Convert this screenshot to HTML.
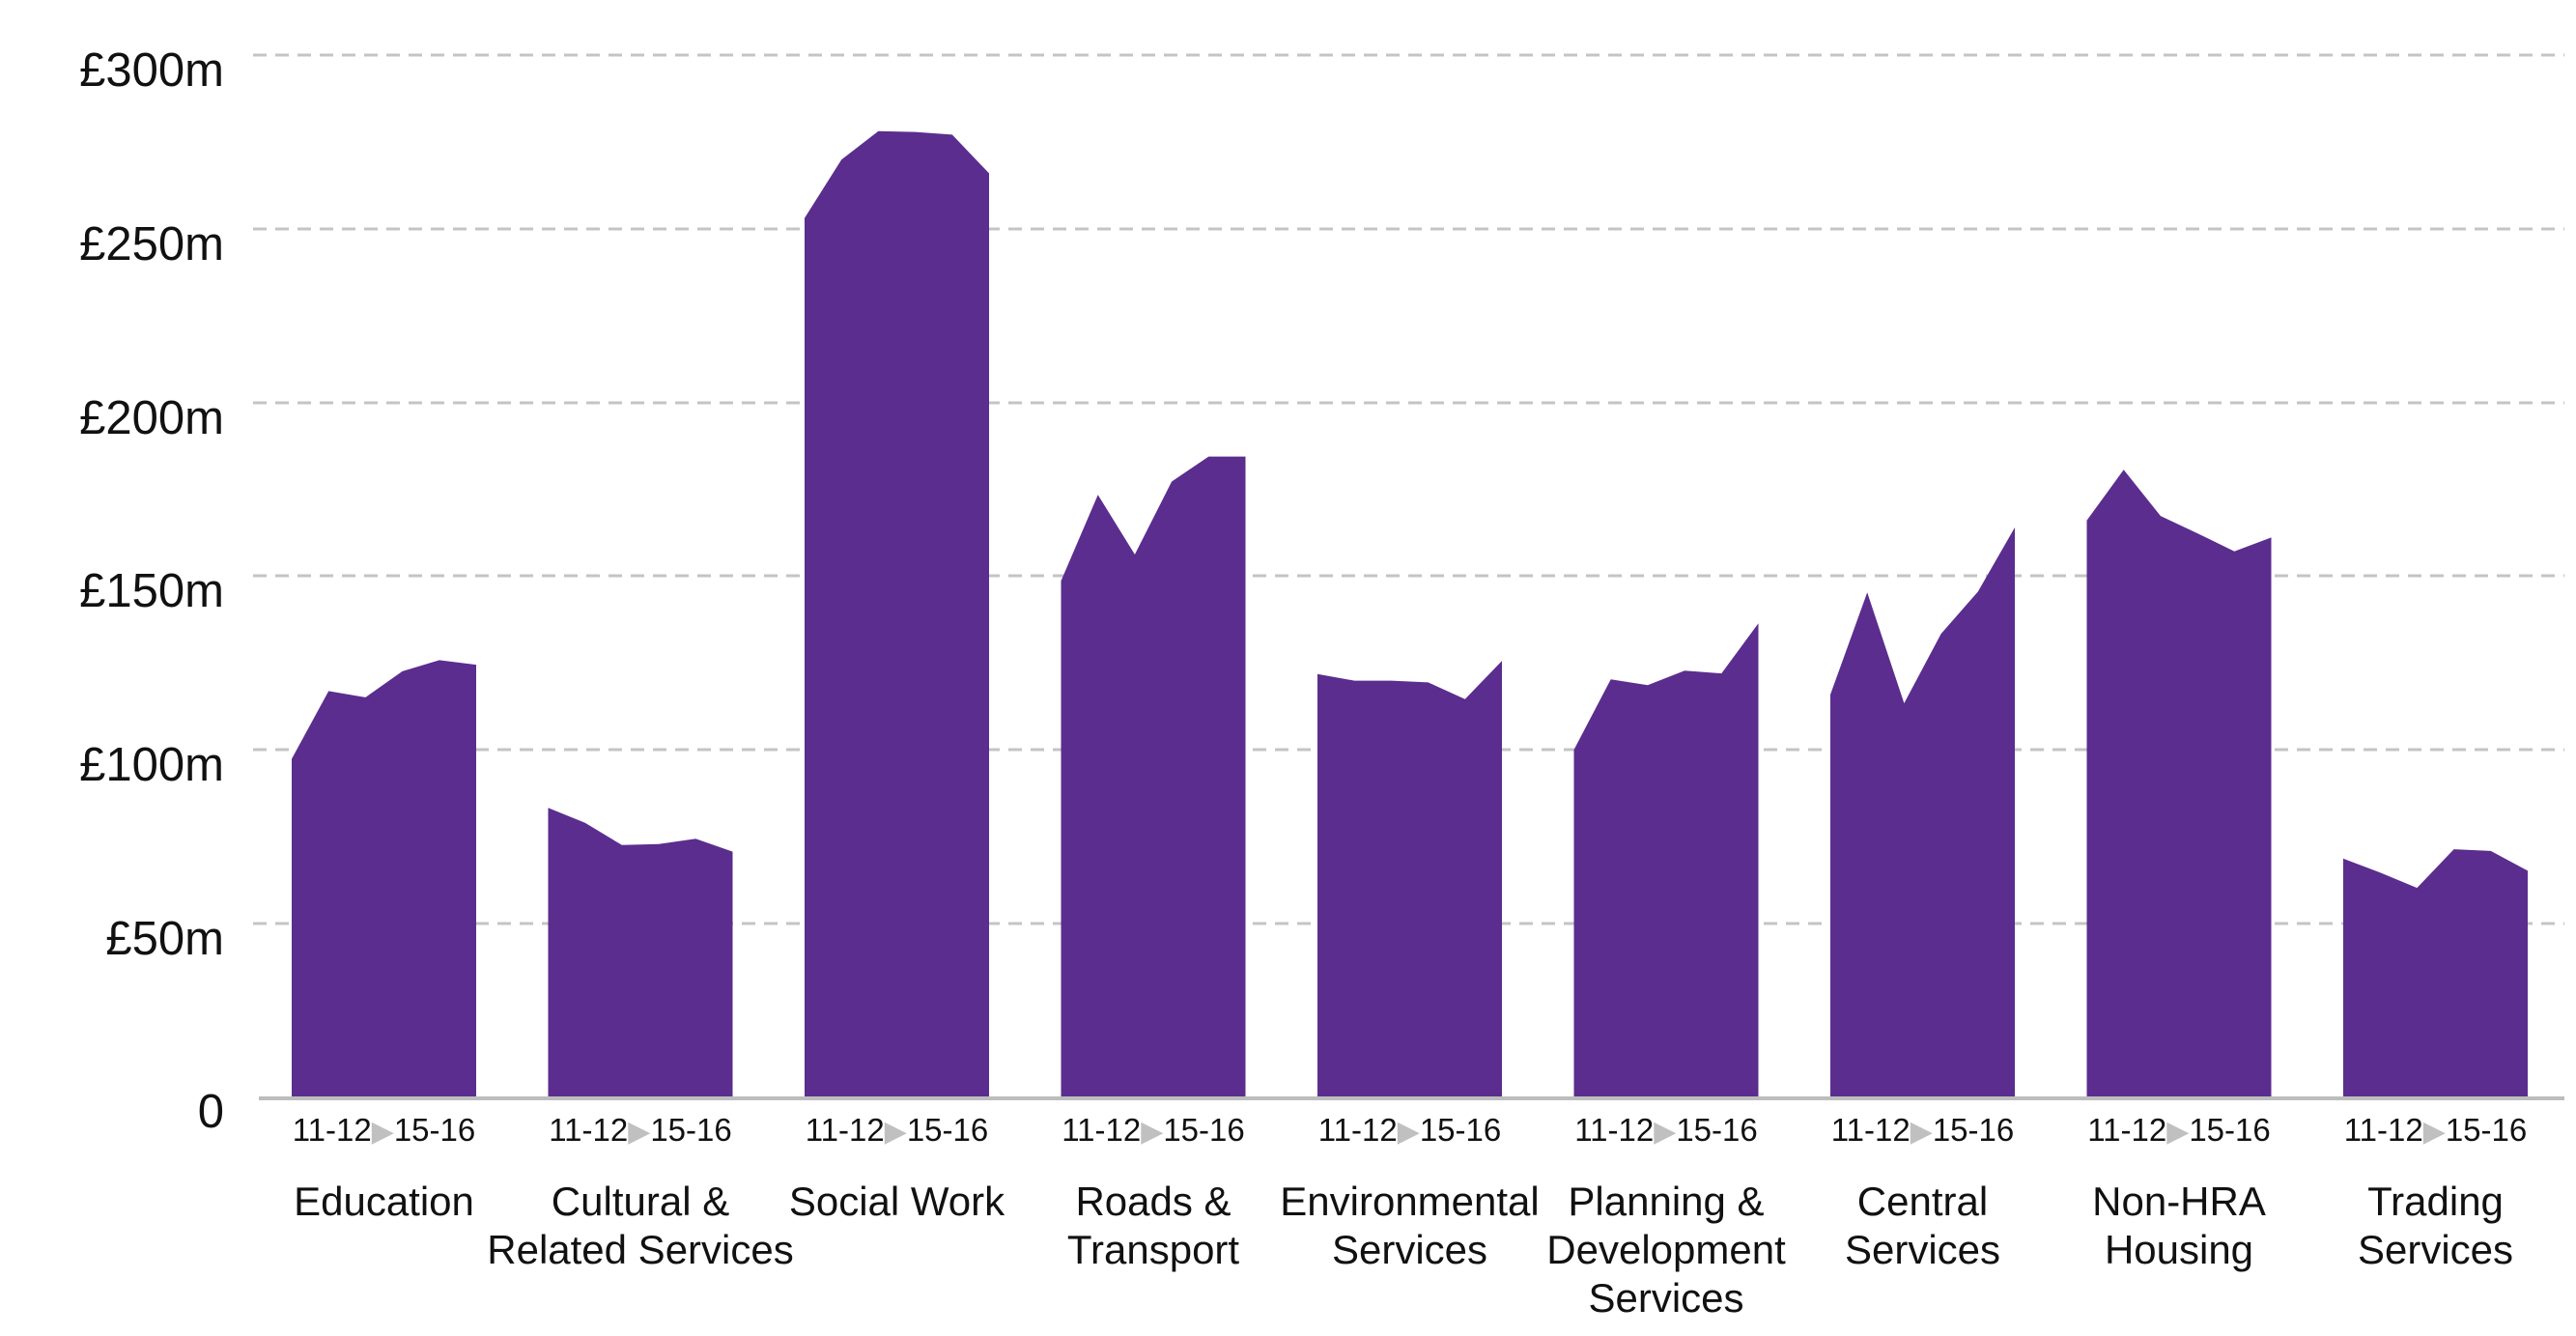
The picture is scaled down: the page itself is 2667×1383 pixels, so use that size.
<!DOCTYPE html>
<html><head><meta charset="utf-8"><style>
html,body{margin:0;padding:0;background:#fff;}
svg{display:block;}
</style></head><body>
<svg id="c" width="2667" height="1383" xmlns="http://www.w3.org/2000/svg" font-family="Liberation Sans, Arial, sans-serif">
<g stroke="#c4c4c4" stroke-width="3" stroke-dasharray="14 9">
<line x1="262" y1="57" x2="2655" y2="57"/>
<line x1="262" y1="237" x2="2655" y2="237"/>
<line x1="262" y1="417" x2="2655" y2="417"/>
<line x1="262" y1="596" x2="2655" y2="596"/>
<line x1="262" y1="776" x2="2655" y2="776"/>
<line x1="262" y1="956" x2="2655" y2="956"/>
</g>
<g font-size="49" fill="#111" text-anchor="end">
<text x="232" y="89">£300m</text>
<text x="232" y="269">£250m</text>
<text x="232" y="449">£200m</text>
<text x="232" y="628">£150m</text>
<text x="232" y="808">£100m</text>
<text x="232" y="988">£50m</text>
<text x="232" y="1167">0</text>
</g>
<g id="bars" fill="#5b2d8e"></g>
<line x1="268" y1="1137" x2="2655" y2="1137" stroke="#bdbdbd" stroke-width="4"/>
<g id="labels"></g>
</svg>
<script>
var data=[
[97.4,116.9,115.1,122.6,125.8,124.5],
[83.3,79,72.6,72.9,74.4,70.7],
[253,269.8,278,277.8,277,265.9],
[148.6,173.4,156.2,177.2,184.4,184.4],
[121.8,119.9,119.9,119.4,114.6,125.6],
[100,120.3,118.6,122.8,122,136.4],
[115.9,145.3,113.4,133.4,145.5,164],
[166,180.6,167.3,162.3,157.1,161.1],
[68.7,64.7,60.3,71.4,70.9,65.2]];
var names=[["Education"],["Cultural &","Related Services"],["Social Work"],["Roads &","Transport"],["Environmental","Services"],["Planning &","Development","Services"],["Central","Services"],["Non-HRA","Housing"],["Trading","Services"]];
var ns="http://www.w3.org/2000/svg";
var bars=document.getElementById("bars"),lab=document.getElementById("labels");
function Y(v){return 1136-v*1079.3/300;}
data.forEach(function(d,i){
 var x0=302+i*265.5,w=191,pts=[[x0,1136]];
 d.forEach(function(v,j){pts.push([x0+w*j/5,Y(v)]);});
 pts.push([x0+w,1136]);
 var p=document.createElementNS(ns,"polygon");
 p.setAttribute("points",pts.map(function(a){return a[0].toFixed(1)+","+a[1].toFixed(1);}).join(" "));
 bars.appendChild(p);
 var cx=x0+w/2;
 var t=document.createElementNS(ns,"text");
 t.setAttribute("x",cx);t.setAttribute("y",1181);t.setAttribute("font-size","33");
 t.setAttribute("text-anchor","middle");t.setAttribute("fill","#111");
 t.innerHTML='11-12<tspan fill="#c0c0c0" font-size="30">\u25B6</tspan>15-16';
 lab.appendChild(t);
 names[i].forEach(function(s,k){
  var q=document.createElementNS(ns,"text");
  q.setAttribute("x",cx);q.setAttribute("y",1258+k*50);q.setAttribute("font-size","42");
  q.setAttribute("text-anchor","middle");q.setAttribute("fill","#111");
  q.textContent=s;lab.appendChild(q);
 });
});
</script>
</body></html>
